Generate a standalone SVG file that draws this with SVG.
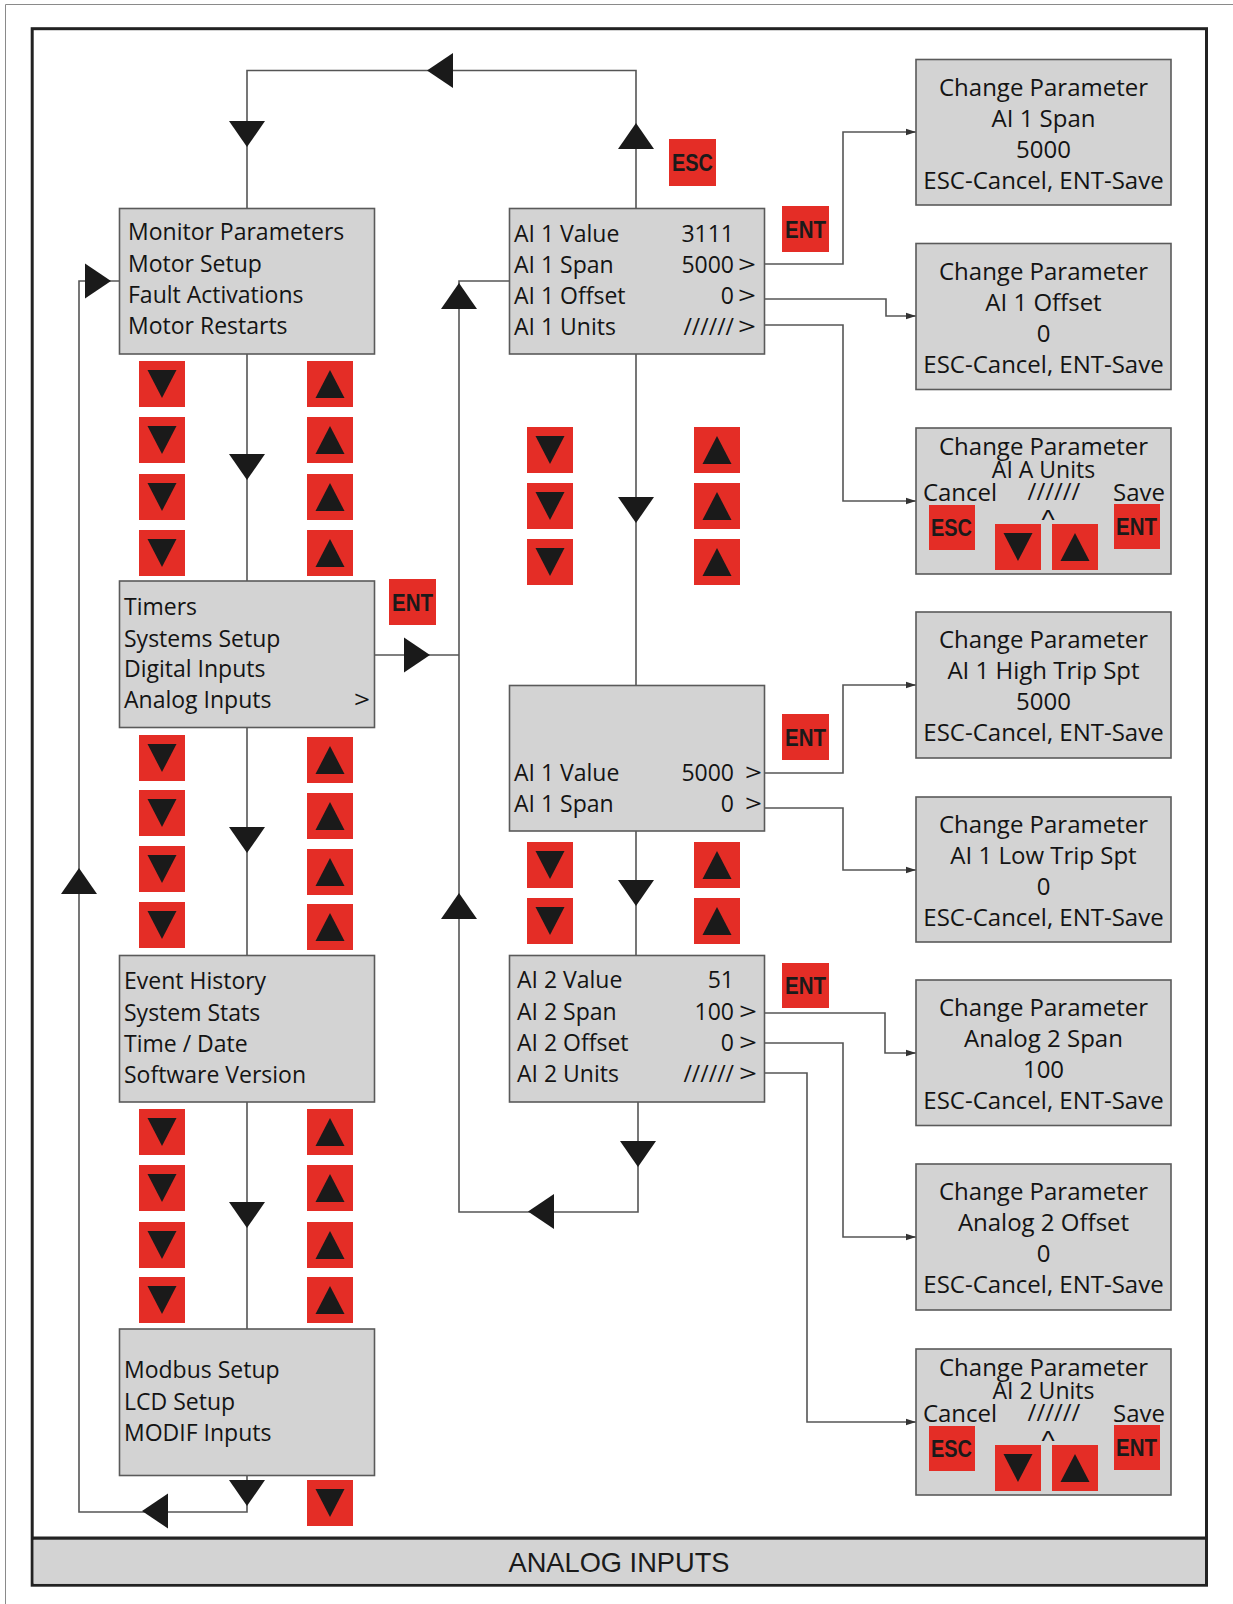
<svg xmlns="http://www.w3.org/2000/svg" width="1233" height="1604" viewBox="0 0 1233 1604">
<style>
.box{fill:#d3d3d3;stroke:#5a5a5a;stroke-width:1.6}
.btn{fill:#e42d26}
.tri{fill:#1a1a1a}
.ln{fill:none;stroke:#555;stroke-width:1.6}
.t{font-family:'Open Sans','Noto Sans',sans-serif;font-size:23px;font-weight:500;fill:#141414}
.r{text-anchor:end}
.c{font-family:'Open Sans','Noto Sans',sans-serif;font-size:24px;font-weight:500;fill:#141414;text-anchor:middle}
.c2{font-size:23px}
.k{font-family:'Liberation Sans',Arial,sans-serif;font-weight:bold;font-size:23px;fill:#1a1a1a}
.ft{font-family:'Liberation Sans',Arial,sans-serif;font-size:28px;fill:#1a1a1a;text-anchor:middle}
</style>
<defs>
<g id="bD"><rect class="btn" width="46" height="46"/><polygon class="tri" points="8.5,9 37.5,9 23,37"/></g>
<g id="bU"><rect class="btn" width="46" height="46"/><polygon class="tri" points="23,9 37.5,37 8.5,37"/></g>
<polygon id="aD" class="tri" points="-18,-26 18,-26 0,0"/>
<polygon id="aU" class="tri" points="0,0 -18,26 18,26"/>
<polygon id="aL" class="tri" points="0,0 26,-17.5 26,17.5"/>
<polygon id="aR" class="tri" points="0,0 -26,-17.5 -26,17.5"/>
<marker id="m" markerUnits="userSpaceOnUse" markerWidth="12" markerHeight="8" refX="10" refY="4" orient="auto"><path d="M0,0.8 L10,4 L0,7.2 z" fill="#333"/></marker>
</defs>
<rect width="1233" height="1604" fill="#fff"/>
<path d="M5.5,1604 V4.5 H1233" fill="none" stroke="#8a8a8a" stroke-width="1"/>
<g id="frame">
<rect x="32.2" y="28.7" width="1174.3" height="1556.5" fill="none" stroke="#222" stroke-width="3"/>
<rect x="33.7" y="1539.5" width="1171.3" height="44.2" fill="#d3d3d3"/>
<line x1="32.2" y1="1538.2" x2="1206.5" y2="1538.2" stroke="#222" stroke-width="3.2"/>
<text class="ft" x="619" y="1572" textLength="221" lengthAdjust="spacingAndGlyphs">ANALOG INPUTS</text>
</g>
<g id="connectors">
<path class="ln" d="M636,208 V70.5 H247 V208"/>
<path class="ln" d="M247,354 V581 M247,728 V956 M247,1102 V1329 M247,1475 V1512 H79 V281 H119"/>
<path class="ln" d="M375,655 H459 M509,281 H459 V1212 H638 V1102"/>
<path class="ln" d="M636,354 V686 M636,831 V956"/>
<path class="ln" marker-end="url(#m)" d="M765,264 H843 V132 H916"/>
<path class="ln" marker-end="url(#m)" d="M765,299 H886 V316 H916"/>
<path class="ln" marker-end="url(#m)" d="M765,325 H843 V501 H916"/>
<path class="ln" marker-end="url(#m)" d="M765,773 H843 V685 H916"/>
<path class="ln" marker-end="url(#m)" d="M765,808 H843 V870 H916"/>
<path class="ln" marker-end="url(#m)" d="M765,1013 H885 V1053 H916"/>
<path class="ln" marker-end="url(#m)" d="M765,1043 H843 V1237 H916"/>
<path class="ln" marker-end="url(#m)" d="M765,1073 H807 V1422 H916"/>
<use href="#aD" x="247" y="147"/>
<use href="#aD" x="247" y="480"/>
<use href="#aD" x="247" y="853"/>
<use href="#aD" x="247" y="1228"/>
<use href="#aD" x="247" y="1506"/>
<use href="#aD" x="636" y="523"/>
<use href="#aD" x="636" y="906"/>
<use href="#aD" x="638" y="1167"/>
<use href="#aU" x="636" y="123"/>
<use href="#aU" x="459" y="283"/>
<use href="#aU" x="459" y="893"/>
<use href="#aU" x="79" y="868"/>
<use href="#aL" x="427" y="70.5"/>
<use href="#aL" x="142" y="1511"/>
<use href="#aL" x="528" y="1211.5"/>
<use href="#aR" x="111" y="281"/>
<use href="#aR" x="430" y="655"/>
</g>
<g id="keys-left">
<use href="#bD" x="139" y="361"/><use href="#bD" x="139" y="417"/><use href="#bD" x="139" y="474"/><use href="#bD" x="139" y="530"/>
<use href="#bU" x="307" y="361"/><use href="#bU" x="307" y="417"/><use href="#bU" x="307" y="474"/><use href="#bU" x="307" y="530"/>
<use href="#bD" x="139" y="735"/><use href="#bD" x="139" y="790"/><use href="#bD" x="139" y="846"/><use href="#bD" x="139" y="902"/>
<use href="#bU" x="307" y="737"/><use href="#bU" x="307" y="793"/><use href="#bU" x="307" y="849"/><use href="#bU" x="307" y="904"/>
<use href="#bD" x="139" y="1109"/><use href="#bD" x="139" y="1165"/><use href="#bD" x="139" y="1222"/><use href="#bD" x="139" y="1277"/>
<use href="#bU" x="307" y="1109"/><use href="#bU" x="307" y="1165"/><use href="#bU" x="307" y="1222"/><use href="#bU" x="307" y="1277"/>
<use href="#bD" x="307" y="1480"/>
</g>
<g id="keys-mid">
<use href="#bD" x="527" y="427"/><use href="#bD" x="527" y="483"/><use href="#bD" x="527" y="539"/>
<use href="#bU" x="694" y="427"/><use href="#bU" x="694" y="483"/><use href="#bU" x="694" y="539"/>
<use href="#bD" x="527" y="842"/><use href="#bD" x="527" y="898"/>
<use href="#bU" x="694" y="842"/><use href="#bU" x="694" y="898"/>
</g>
<g id="key-esc-top"><rect class="btn" x="669" y="139" width="47" height="47"/><text class="k" x="672" y="171" textLength="41" lengthAdjust="spacingAndGlyphs">ESC</text></g>
<g id="key-ent-1"><rect class="btn" x="782" y="206" width="47" height="46"/><text class="k" x="785" y="238" textLength="41" lengthAdjust="spacingAndGlyphs">ENT</text></g>
<g id="key-ent-2"><rect class="btn" x="389" y="579" width="47" height="46"/><text class="k" x="392" y="611" textLength="41" lengthAdjust="spacingAndGlyphs">ENT</text></g>
<g id="key-ent-3"><rect class="btn" x="782" y="714" width="47" height="46"/><text class="k" x="785" y="746" textLength="41" lengthAdjust="spacingAndGlyphs">ENT</text></g>
<g id="key-ent-4"><rect class="btn" x="782" y="963" width="47" height="45"/><text class="k" x="785" y="994" textLength="41" lengthAdjust="spacingAndGlyphs">ENT</text></g>
<g id="menu-1">
<rect class="box" x="119.5" y="208.5" width="255" height="145.5"/>
<text class="t" x="128" y="240">Monitor Parameters</text>
<text class="t" x="128" y="272">Motor Setup</text>
<text class="t" x="128" y="303">Fault Activations</text>
<text class="t" x="128" y="334">Motor Restarts</text>
</g>
<g id="menu-2">
<rect class="box" x="119.5" y="581" width="255" height="146.5"/>
<text class="t" x="124" y="615">Timers</text>
<text class="t" x="124" y="647">Systems Setup</text>
<text class="t" x="124" y="677">Digital Inputs</text>
<text class="t" x="124" y="708">Analog Inputs</text>
<text class="t" x="354" y="708" textLength="16" lengthAdjust="spacingAndGlyphs">&gt;</text>
</g>
<g id="menu-3">
<rect class="box" x="119.5" y="955.5" width="255" height="146.5"/>
<text class="t" x="124" y="989">Event History</text>
<text class="t" x="124" y="1021">System Stats</text>
<text class="t" x="124" y="1052">Time / Date</text>
<text class="t" x="124" y="1083">Software Version</text>
</g>
<g id="menu-4">
<rect class="box" x="119.5" y="1329" width="255" height="146.5"/>
<text class="t" x="124" y="1378">Modbus Setup</text>
<text class="t" x="124" y="1410">LCD Setup</text>
<text class="t" x="124" y="1441">MODIF Inputs</text>
</g>
<g id="ai1">
<rect class="box" x="509.5" y="208.5" width="255" height="145.5"/>
<text class="t" x="514" y="242">AI 1 Value</text>
<text class="t" x="514" y="273">AI 1 Span</text>
<text class="t" x="514" y="304">AI 1 Offset</text>
<text class="t" x="514" y="335">AI 1 Units</text>
<text class="t r" x="734" y="242">3111</text>
<text class="t r" x="734" y="273">5000</text>
<text class="t r" x="734" y="304">0</text>
<text class="t r" x="734" y="335">//////</text>
<text class="t" x="738" y="273" textLength="18" lengthAdjust="spacingAndGlyphs">&gt;</text>
<text class="t" x="738" y="304" textLength="18" lengthAdjust="spacingAndGlyphs">&gt;</text>
<text class="t" x="738" y="335" textLength="18" lengthAdjust="spacingAndGlyphs">&gt;</text>
</g>
<g id="ai1-trip">
<rect class="box" x="509.5" y="685.5" width="255" height="145.5"/>
<text class="t" x="514" y="781">AI 1 Value</text>
<text class="t" x="514" y="812">AI 1 Span</text>
<text class="t r" x="734" y="781">5000</text>
<text class="t r" x="734" y="812">0</text>
<text class="t" x="745" y="781" textLength="17" lengthAdjust="spacingAndGlyphs">&gt;</text>
<text class="t" x="745" y="812" textLength="17" lengthAdjust="spacingAndGlyphs">&gt;</text>
</g>
<g id="ai2">
<rect class="box" x="509.5" y="955.5" width="255" height="146.5"/>
<text class="t" x="517" y="988">AI 2 Value</text>
<text class="t" x="517" y="1020">AI 2 Span</text>
<text class="t" x="517" y="1051">AI 2 Offset</text>
<text class="t" x="517" y="1082">AI 2 Units</text>
<text class="t r" x="734" y="988">51</text>
<text class="t r" x="734" y="1020">100</text>
<text class="t r" x="734" y="1051">0</text>
<text class="t r" x="734" y="1082">//////</text>
<text class="t" x="739" y="1020" textLength="18" lengthAdjust="spacingAndGlyphs">&gt;</text>
<text class="t" x="739" y="1051" textLength="18" lengthAdjust="spacingAndGlyphs">&gt;</text>
<text class="t" x="739" y="1082" textLength="18" lengthAdjust="spacingAndGlyphs">&gt;</text>
</g>
<g id="cp-ai1-span">
<rect class="box" x="916" y="59.5" width="255" height="145.5"/>
<text class="c" x="1043.5" y="95.5">Change Parameter</text>
<text class="c" x="1043.5" y="126.5">AI 1 Span</text>
<text class="c" x="1043.5" y="157.5">5000</text>
<text class="c" x="1043.5" y="188.5">ESC-Cancel, ENT-Save</text>
</g>
<g id="cp-ai1-offset">
<rect class="box" x="916" y="243.5" width="255" height="146"/>
<text class="c" x="1043.5" y="279.5">Change Parameter</text>
<text class="c" x="1043.5" y="310.5">AI 1 Offset</text>
<text class="c" x="1043.5" y="341.5">0</text>
<text class="c" x="1043.5" y="372.5">ESC-Cancel, ENT-Save</text>
</g>
<g id="cp-ai1-units">
<rect class="box" x="916" y="428" width="255" height="146"/>
<text class="c" x="1043.5" y="455">Change Parameter</text>
<text class="c c2" x="1043.5" y="478">AI A Units</text>
<text class="c" x="960" y="501">Cancel</text>
<text class="c" x="1054" y="500">//////</text>
<text class="c" x="1139" y="501">Save</text>
<text class="c" x="1048" y="529" style="font-family:'Liberation Sans',sans-serif;font-size:28px;font-weight:normal">^</text>
<rect class="btn" x="929" y="505" width="46" height="45"/><text class="k" x="931" y="536" textLength="41" lengthAdjust="spacingAndGlyphs">ESC</text>
<use href="#bD" x="995" y="524"/><use href="#bU" x="1052" y="524"/>
<rect class="btn" x="1114" y="504" width="46" height="45"/><text class="k" x="1116" y="535" textLength="41" lengthAdjust="spacingAndGlyphs">ENT</text>
</g>
<g id="cp-ai1-high">
<rect class="box" x="916" y="612" width="255" height="146"/>
<text class="c" x="1043.5" y="648">Change Parameter</text>
<text class="c" x="1043.5" y="679">AI 1 High Trip Spt</text>
<text class="c" x="1043.5" y="710">5000</text>
<text class="c" x="1043.5" y="741">ESC-Cancel, ENT-Save</text>
</g>
<g id="cp-ai1-low">
<rect class="box" x="916" y="797" width="255" height="145"/>
<text class="c" x="1043.5" y="833">Change Parameter</text>
<text class="c" x="1043.5" y="864">AI 1 Low Trip Spt</text>
<text class="c" x="1043.5" y="895">0</text>
<text class="c" x="1043.5" y="926">ESC-Cancel, ENT-Save</text>
</g>
<g id="cp-ai2-span">
<rect class="box" x="916" y="980" width="255" height="145.5"/>
<text class="c" x="1043.5" y="1016">Change Parameter</text>
<text class="c" x="1043.5" y="1047">Analog 2 Span</text>
<text class="c" x="1043.5" y="1078">100</text>
<text class="c" x="1043.5" y="1109">ESC-Cancel, ENT-Save</text>
</g>
<g id="cp-ai2-offset">
<rect class="box" x="916" y="1164" width="255" height="146"/>
<text class="c" x="1043.5" y="1200">Change Parameter</text>
<text class="c" x="1043.5" y="1231">Analog 2 Offset</text>
<text class="c" x="1043.5" y="1262">0</text>
<text class="c" x="1043.5" y="1293">ESC-Cancel, ENT-Save</text>
</g>
<g id="cp-ai2-units">
<rect class="box" x="916" y="1349" width="255" height="146"/>
<text class="c" x="1043.5" y="1376">Change Parameter</text>
<text class="c c2" x="1043.5" y="1399">AI 2 Units</text>
<text class="c" x="960" y="1422">Cancel</text>
<text class="c" x="1054" y="1421">//////</text>
<text class="c" x="1139" y="1422">Save</text>
<text class="c" x="1048" y="1450" style="font-family:'Liberation Sans',sans-serif;font-size:28px;font-weight:normal">^</text>
<rect class="btn" x="929" y="1426" width="46" height="45"/><text class="k" x="931" y="1457" textLength="41" lengthAdjust="spacingAndGlyphs">ESC</text>
<use href="#bD" x="995" y="1445"/><use href="#bU" x="1052" y="1445"/>
<rect class="btn" x="1114" y="1425" width="46" height="45"/><text class="k" x="1116" y="1456" textLength="41" lengthAdjust="spacingAndGlyphs">ENT</text>
</g>
</svg>
